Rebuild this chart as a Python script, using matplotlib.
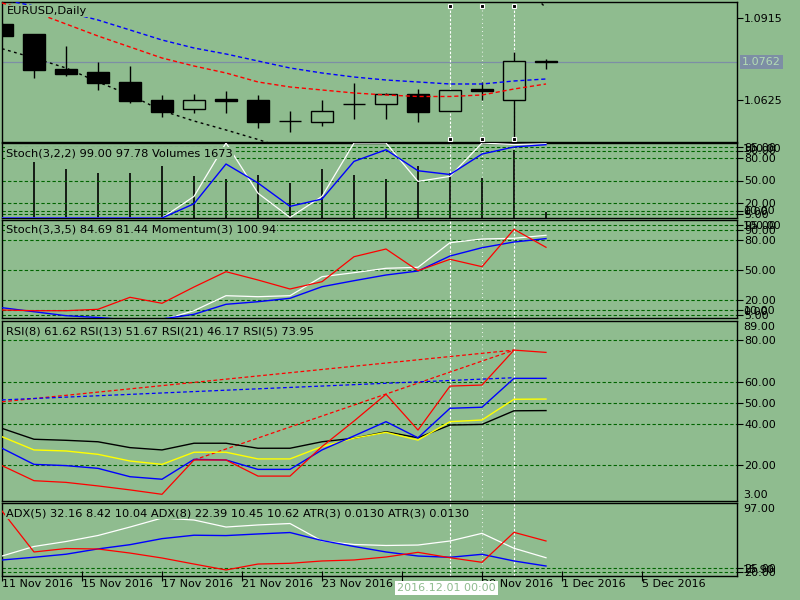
import numpy as np
import matplotlib
matplotlib.use('Agg')
import matplotlib.pyplot as plt
from matplotlib.transforms import blended_transform_factory

BG = '#8fbc8f'
GRID = '#006400'

# ---- data (one entry per daily bar, 18 bars) ----
opens = [1.0894, 1.08584, 1.07346, 1.07251, 1.06897, 1.06261, 1.05921, 1.06296, 1.06250,
         1.05497, 1.05483, 1.06098, 1.06098, 1.06452, 1.05850, 1.06628, 1.06250, 1.07635]
highs = [1.0896, 1.08590, 1.08170, 1.07605, 1.07452, 1.06427, 1.06462, 1.06568, 1.06427,
         1.05861, 1.06250, 1.06851, 1.06508, 1.06628, 1.06604, 1.06887, 1.07948, 1.07689]
lows = [1.0850, 1.07039, 1.07099, 1.06604, 1.06155, 1.05659, 1.05780, 1.05801, 1.05249,
        1.05129, 1.05330, 1.05589, 1.05589, 1.05483, 1.05850, 1.06250, 1.04917, 1.07336]
closes = [1.08524, 1.07322, 1.07180, 1.06862, 1.06225, 1.05836, 1.06250, 1.06225, 1.05483,
          1.05497, 1.05850, 1.06098, 1.06452, 1.05836, 1.06604, 1.06579, 1.07619, 1.07600]

ma_blue = [1.09804, 1.09574, 1.09362, 1.09079, 1.08726, 1.08372, 1.08089, 1.07877, 1.07629,
           1.07382, 1.07205, 1.07063, 1.06957, 1.06887, 1.06816, 1.06816, 1.06922, 1.06993]
ma_red = [1.09681, 1.09362, 1.08938, 1.08513, 1.08124, 1.07735, 1.07452, 1.07205, 1.06887,
          1.06710, 1.06604, 1.06498, 1.06427, 1.06374, 1.06374, 1.06427, 1.06639, 1.06816]
ma_black = [1.08064, 1.07735, 1.07382, 1.06887, 1.06427, 1.05872, 1.05507, 1.05189, 1.04853,
            1.04482, np.nan, np.nan, np.nan, np.nan, np.nan, np.nan, 1.10671, 1.09504]

volumes = [14000, 14760, 12900, 11840, 11840, 13780, 11130, 10250, 11400,
           9360, 12990, 11400, 10340, 13780, 11840, 10520, 18020, 1673]
stoch1_blue = [0, 0, 0, 0, 0, 0, 19, 72, 46.7, 15.5, 25.3, 75.5, 91, 63, 58, 85.3, 94.7, 97.8]
stoch1_white = [0, 0, 0, 0, 0, 0, 28.8, 100, 33, 0.8, 28.8, 100, 100, 48.8, 55.5, 100, 98, 99]

stoch2_red = [10, 9.3, 9.3, 10.7, 22.7, 16.7, 33, 48.3, 40, 31, 38.3, 63.3, 71, 49.3, 60.7, 53.3, 90.7, 72.7]
stoch2_white = [0, 0, 0, 0, 0, 0, 9.3, 24.3, 23.3, 24.3, 43.3, 47.3, 51.7, 52.7, 77.3, 81, 81.7, 84.7]
stoch2_blue = [12.3, 8.3, 4.3, 2.5, 0, 1, 5.7, 15.7, 18.3, 21.7, 33.3, 39.3, 45, 49, 64, 72.3, 78, 81.4]

rsi21 = [37.7, 32.5, 32.0, 31.3, 28.5, 27.4, 30.6, 30.6, 28.2, 28.2, 31.3, 33.0, 36.1, 33.2, 39.3, 39.6, 46.1, 46.2]
rsi13 = [33.7, 27.4, 26.9, 25.3, 22.1, 20.5, 26.3, 26.3, 23.1, 23.1, 29.0, 33.0, 35.8, 32.1, 40.9, 41.7, 51.6, 51.7]
rsi8 = [28.2, 20.5, 19.9, 18.6, 14.6, 13.4, 22.9, 22.6, 18.1, 18.1, 27.4, 34.1, 40.9, 33.2, 47.3, 47.8, 61.6, 61.6]
rsi5 = [19.9, 12.7, 11.9, 10.2, 8.3, 6.2, 22.6, 22.6, 14.9, 14.9, 29.0, 41.2, 54.0, 36.9, 57.9, 58.4, 75.1, 74.0]
# trend lines drawn on the RSI window: (bar_a, bar_b), (value_a, value_b)
trend_red1 = ([0, 16], [50.4, 75.1])
trend_red2 = ([6, 16], [22.6, 75.1])
trend_blue = ([0, 16], [51.3, 61.9])

adx_red = [88.1, 42.6, 46.4, 45.9, 41.4, 35.9, 29.2, 22.6, 29.2, 30.0, 32.6, 33.7, 37.0, 42.2, 36.2, 31.1, 64.4, 54.8]
adx_white = [38.1, 48.7, 54.2, 60.9, 70.3, 80.3, 78.1, 70.3, 72.6, 74.2, 54.8, 50.9, 49.8, 50.3, 54.8, 63.3, 46.7, 36.2]
adx_blue = [33.7, 36.7, 40.1, 46.0, 50.7, 57.4, 61.2, 60.8, 62.6, 64.2, 55.3, 48.7, 42.6, 38.1, 36.7, 40.0, 32.6, 27.0]

# the 25 Nov label sits under the cursor date box, so it is left blank
date_ticks = [0, 2.5, 5, 7.5, 10, 12.5, 15, 17.5, 20]
date_labels = ['11 Nov 2016', '15 Nov 2016', '17 Nov 2016', '21 Nov 2016', '23 Nov 2016',
               '', '29 Nov 2016', '1 Dec 2016', '5 Dec 2016']
vline_bars = [14, 15, 16]
vline_styles = [(0, (2.2, 1.5)), (0, (0.7, 3)), (0, (2.2, 1.5))]

x = np.arange(len(closes))
XMAX = 735 / 32.0

fig = plt.figure(figsize=(8, 6), dpi=100)
fig.patch.set_facecolor(BG)


def px_axes(x0, y0, x1, y1):
    a = fig.add_axes([x0 / 800, 1 - y1 / 600, (x1 - x0) / 800, (y1 - y0) / 600])
    a.set_facecolor(BG)
    a.set_xlim(0, XMAX)
    for s in a.spines.values():
        s.set_color('black')
        s.set_linewidth(1.0)
    a.tick_params(axis='x', bottom=False, labelbottom=False)
    a.yaxis.tick_right()
    a.tick_params(axis='y', direction='out', length=4, width=0.8, labelsize=8, pad=1, colors='black')
    return a


def grid(a, levels):
    for v in levels:
        a.axhline(v, color=GRID, lw=0.8, ls=(0, (3, 2)), zorder=1)


def edge_label(a, text, top):
    a.annotate(text, xy=(1, 1 if top else 0), xycoords='axes fraction',
               xytext=(6, -1 if top else 1), textcoords='offset pixels',
               va='top' if top else 'bottom', ha='left', fontsize=8)


def title(a, text, dx=4, dy=-4):
    a.annotate(text, xy=(0, 1), xycoords='axes fraction', xytext=(dx, dy),
               textcoords='offset pixels', va='top', ha='left', fontsize=8.2, zorder=10,
               bbox=dict(facecolor=BG, edgecolor='none', pad=0.8))


def vlines_white(a):
    for b, st in zip(vline_bars, vline_styles):
        a.axvline(b, color='white', lw=0.8, ls=st, zorder=1.5)


# ---- main price window ----
ax0 = px_axes(2, 2, 737, 142)
ax0.set_ylim(1.04764, 1.09716)
trans0 = blended_transform_factory(ax0.transData, ax0.transAxes)
for b, st in zip(vline_bars, vline_styles):
    ax0.plot([b, b], [0.975, 0.025], transform=trans0, color='white', lw=0.8, ls=st, zorder=1.5)
    ax0.plot([b, b], [0.975, 0.025], transform=trans0, ls='none', marker='s', ms=3,
             mfc='black', mec='white', mew=0.8, zorder=6, clip_on=False)

ax0.axhline(closes[-1], color='#7d8ea5', lw=0.9, zorder=1.2)
ax0.vlines(x, lows, highs, color='black', lw=1.0, zorder=2)
o = np.array(opens)
c = np.array(closes)
bull = c >= o
ax0.bar(x[bull], np.abs(c - o)[bull], bottom=np.minimum(o, c)[bull], width=0.69,
        facecolor=BG, edgecolor='black', linewidth=1.0, zorder=3)
ax0.bar(x[~bull], np.abs(c - o)[~bull], bottom=np.minimum(o, c)[~bull], width=0.69,
        facecolor='black', edgecolor='black', linewidth=1.0, zorder=3)
ax0.plot(x, ma_blue, color='blue', lw=1.0, ls=(0, (3, 2)), zorder=4)
ax0.plot(x, ma_red, color='red', lw=1.0, ls=(0, (3, 2)), zorder=4)
ax0.plot(x, ma_black, color='black', lw=1.0, ls=(0, (2, 2.5)), zorder=4)
ax0.set_yticks([1.0915, 1.0625])
ax0.set_yticklabels(['1.0915', '1.0625'])
ax0.annotate('1.0762', xy=(1, closes[-1]),
             xycoords=blended_transform_factory(ax0.transAxes, ax0.transData),
             xytext=(5, 0), textcoords='offset pixels', va='center', ha='left',
             fontsize=8, color='#b4dcb4',
             bbox=dict(facecolor='#7d8ea5', edgecolor='none', pad=1.5))
title(ax0, 'EURUSD,Daily', dx=5, dy=-4)

# ---- Stoch(3,2,2) + volumes ----
ax1v = px_axes(2, 143, 737, 218)
ax1v.set_ylim(0, 19900)
ax1v.set_axis_off()
ax1 = px_axes(2, 143, 737, 218)
ax1.patch.set_alpha(0)
ax1.set_ylim(0, 100)
lv1 = [95, 90, 80, 50, 20, 10, 5]
grid(ax1, lv1)
vlines_white(ax1v)
ax1v.vlines(x, 0, volumes, color='black', lw=1.2, zorder=3)
ax1.plot(x, stoch1_white, color='white', lw=0.9, zorder=4)
ax1.plot(x, stoch1_blue, color='blue', lw=1.0, zorder=5)
ax1.set_yticks(lv1)
ax1.set_yticklabels(['%.2f' % v for v in lv1])
edge_label(ax1, '100.00', True)
edge_label(ax1, '0.00', False)
title(ax1, 'Stoch(3,2,2) 99.00 97.78 Volumes 1673', dy=-5)

# ---- Stoch(3,3,5) + Momentum ----
ax2 = px_axes(2, 220, 737, 318)
ax2.set_ylim(2, 100)
lv2 = [95, 90, 80, 50, 20, 10, 5]
grid(ax2, lv2)
vlines_white(ax2)
ax2.plot(x, stoch2_white, color='white', lw=0.9, zorder=3)
ax2.plot(x, stoch2_blue, color='blue', lw=1.0, zorder=4)
ax2.plot(x, stoch2_red, color='red', lw=0.9, zorder=5)
ax2.set_yticks(lv2)
ax2.set_yticklabels(['%.2f' % v for v in lv2])
edge_label(ax2, '100.00', True)
edge_label(ax2, '0.00', False)
title(ax2, 'Stoch(3,3,5) 84.69 81.44 Momentum(3) 100.94', dy=-5)

# ---- RSI ----
ax3 = px_axes(2, 321, 737, 501)
ax3.set_ylim(3, 89)
lv3 = [80, 60, 50, 40, 20]
grid(ax3, lv3)
vlines_white(ax3)
ax3.plot(*trend_red1, color='red', lw=0.9, ls=(0, (3, 2)), zorder=3)
ax3.plot(*trend_red2, color='red', lw=0.9, ls=(0, (3, 2)), zorder=3)
ax3.plot(*trend_blue, color='blue', lw=0.9, ls=(0, (3, 2)), zorder=3)
ax3.plot(x, rsi21, color='black', lw=1.0, zorder=4)
ax3.plot(x, rsi13, color='yellow', lw=1.0, zorder=4)
ax3.plot(x, rsi8, color='blue', lw=1.0, zorder=4)
ax3.plot(x, rsi5, color='red', lw=0.9, zorder=4)
ax3.set_yticks(lv3)
ax3.set_yticklabels(['%.2f' % v for v in lv3])
edge_label(ax3, '89.00', True)
edge_label(ax3, '3.00', False)
title(ax3, 'RSI(8) 61.62 RSI(13) 51.67 RSI(21) 46.17 RSI(5) 73.95', dy=-5)

# ---- ADX / ATR ----
ax4 = px_axes(2, 503, 737, 576)
ax4.set_ylim(15.9, 97)
lv4 = [25, 20]
grid(ax4, lv4)
vlines_white(ax4)
ax4.plot(x, adx_white, color='white', lw=0.9, zorder=3)
ax4.plot(x, adx_blue, color='blue', lw=1.0, zorder=4)
ax4.plot(x, adx_red, color='red', lw=0.9, zorder=5)
ax4.set_yticks(lv4)
ax4.set_yticklabels(['%.2f' % v for v in lv4])
edge_label(ax4, '97.00', True)
edge_label(ax4, '15.90', False)
title(ax4, 'ADX(5) 32.16 8.42 10.04 ADX(8) 22.39 10.45 10.62 ATR(3) 0.0130 ATR(3) 0.0130', dy=-5)

ax4.tick_params(axis='x', bottom=True, labelbottom=True, direction='inout', length=7,
                width=0.8, labelsize=8, pad=-1)
ax4.set_xticks(date_ticks)
ax4.set_xticklabels(date_labels, ha='left')

fig.text(397 / 800, 1 - 588 / 600, '2016.12.01 00:00', fontsize=8, color=BG, va='center',
         ha='left', bbox=dict(facecolor='white', edgecolor='none', pad=1.5), zorder=20)

fig.savefig('out.png', dpi=100, facecolor=BG)
